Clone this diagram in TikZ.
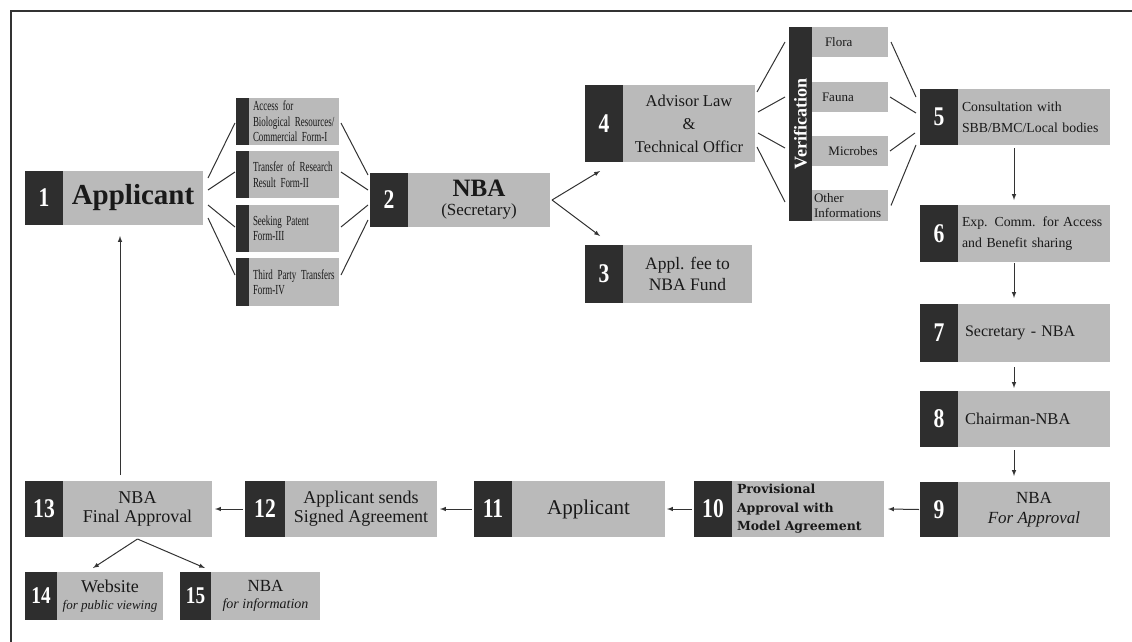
\documentclass[tikz,border=0pt]{standalone}
\usepackage{fontspec}
\setmainfont{Liberation Serif}
\newfontfamily\narrowfont[FakeStretch=0.65]{Liberation Serif}
\newfontfamily\numfont[FakeStretch=0.8]{Liberation Serif}
\newfontfamily\widefont{DejaVu Serif}
\usetikzlibrary{positioning}
\definecolor{darkbox}{HTML}{2E2E2E}
\definecolor{greybox}{HTML}{BABABA}
\definecolor{inkline}{HTML}{333333}
\tikzset{
  numsq/.style={fill=darkbox, text=white, font=\numfont\bfseries\fontsize{27}{27}\selectfont,
    minimum width=38pt, inner sep=0pt, outer sep=0pt, anchor=north west},
  body/.style={fill=greybox, text=black!90, inner sep=2pt, outer sep=0pt, align=center},
  leftbody/.style={body, align=left, inner xsep=4pt, text width=144pt},
  strip/.style={fill=darkbox, minimum width=13pt, inner sep=0pt, outer sep=0pt, anchor=north west},
  form/.style={body, align=left, inner xsep=4pt, text width=82pt,
    font=\narrowfont\fontsize{13.8}{15.5}\selectfont},
  item/.style={body, anchor=north west, minimum width=76pt, minimum height=30pt,
    font=\fontsize{13}{14}\selectfont},
  fan/.style={draw=inkline, line width=1pt},
  flow/.style={draw=inkline, line width=1pt, -latex},
}
\begin{document}
\begin{tikzpicture}[x=1pt,y=-1pt]
\useasboundingbox (0,0) rectangle (1132,642);
\draw[line width=1.3pt, inkline] (11,642) -- (11,11) -- (1132,11);
\hyphenpenalty=10000

% applicant and forms
\node[numsq, minimum height=54pt] (n1) at (25,171) {1};
\node[body, minimum width=140pt, minimum height=54pt, right=0pt of n1,
  font=\bfseries\fontsize{29}{30}\selectfont] (b1) {Applicant};

\node[strip, minimum height=47pt] (f1s) at (236,98) {};
\node[form, minimum height=47pt, right=0pt of f1s] (f1) {Access for\\Biological Resources/\\Commercial Form-I};
\node[strip, minimum height=47pt] (f2s) at (236,151) {};
\node[form, minimum height=47pt, right=0pt of f2s] (f2) {Transfer of Research\\Result Form-II};
\node[strip, minimum height=47pt] (f3s) at (236,205) {};
\node[form, minimum height=47pt, right=0pt of f3s] (f3) {Seeking Patent\\Form-III};
\node[strip, minimum height=48pt] (f4s) at (236,258) {};
\node[form, minimum height=48pt, right=0pt of f4s] (f4) {Third Party Transfers\\Form-IV};

% NBA secretary, fee, advisor
\node[numsq, minimum height=54pt] (n2) at (370,173) {2};
\node[body, minimum width=142pt, minimum height=54pt, right=0pt of n2,
  font=\fontsize{17}{19}\selectfont] (b2) {{\bfseries\fontsize{25}{25}\selectfont NBA}\\(Secretary)};

\node[numsq, minimum height=77pt] (n4) at (585,85) {4};
\node[body, minimum width=132pt, minimum height=77pt, right=0pt of n4,
  font=\fontsize{16.5}{23}\selectfont] (b4) {Advisor Law\\\&\\Technical Officr};

\node[numsq, minimum height=58pt] (n3) at (585,245) {3};
\node[body, minimum width=129pt, minimum height=58pt, right=0pt of n3,
  font=\fontsize{17.5}{21}\selectfont] (b3) {Appl. fee to\\NBA Fund};

% verification
\node[strip, minimum width=23pt, minimum height=194pt] (vs) at (789,27) {};
\node[rotate=90, text=white, font=\bfseries\fontsize{18}{18}\selectfont] (vtxt) at (vs.center) {Verification};
\node[item, align=left, text width=66pt, inner xsep=5pt] (flora) at (812,27) {\hspace*{8pt}Flora};
\node[item, align=left, text width=66pt, inner xsep=5pt] (fauna) at (812,82) {\hspace*{5pt}Fauna};
\node[item] (microbes) at (812,136) {\hspace*{6pt}Microbes};
\node[item, minimum height=31pt, align=left, text width=72pt, inner xsep=2pt,
  font=\fontsize{13}{15}\selectfont] (other) at (812,190) {Other\\Informations};

% right column
\node[numsq, minimum height=56pt] (n5) at (920,89) {5};
\node[leftbody, minimum height=56pt, right=0pt of n5, font=\fontsize{13.8}{21}\selectfont] (b5)
  {Consultation with\\SBB/BMC/Local bodies};
\node[numsq, minimum height=57pt] (n6) at (920,205) {6};
\node[leftbody, minimum height=57pt, right=0pt of n6, font=\fontsize{13.8}{21}\selectfont] (b6)
  {Exp. Comm. for Access\\and Benefit sharing};
\node[numsq, minimum height=58pt] (n7) at (920,304) {7};
\node[leftbody, minimum height=58pt, right=0pt of n7, font=\fontsize{16}{18}\selectfont] (b7)
  {\hspace*{3pt}Secretary - NBA};
\node[numsq, minimum height=56pt] (n8) at (920,391) {8};
\node[leftbody, minimum height=56pt, right=0pt of n8, font=\fontsize{16.5}{18}\selectfont] (b8)
  {\hspace*{3pt}Chairman-NBA};
\node[numsq, minimum height=55pt] (n9) at (920,482) {9};
\node[body, minimum width=152pt, minimum height=55pt, right=0pt of n9, font=\fontsize{17}{20}\selectfont] (b9)
  {NBA\\\textit{For Approval}};

% bottom row
\node[numsq, minimum height=56pt] (n10) at (694,481) {10};
\node[body, align=left, inner xsep=5pt, text width=142pt, minimum height=56pt, right=0pt of n10,
  font=\widefont\bfseries\fontsize{12.5}{18.5}\selectfont] (b10) {Provisional\\Approval with\\Model Agreement};
\node[numsq, minimum height=56pt] (n11) at (474,481) {11};
\node[body, minimum width=153pt, minimum height=56pt, right=0pt of n11,
  font=\fontsize{21}{24}\selectfont] (b11) {Applicant};
\node[numsq, minimum height=56pt, minimum width=40pt] (n12) at (245,481) {12};
\node[body, minimum width=152pt, minimum height=56pt, right=0pt of n12,
  font=\fontsize{18}{19}\selectfont] (b12) {Applicant sends\\Signed Agreement};
\node[numsq, minimum height=56pt] (n13) at (25,481) {13};
\node[body, minimum width=149pt, minimum height=56pt, right=0pt of n13,
  font=\fontsize{18}{19}\selectfont] (b13) {NBA\\Final Approval};
\node[numsq, minimum height=48pt, minimum width=32pt, font=\numfont\bfseries\fontsize{24}{24}\selectfont] (n14) at (25,572) {14};
\node[body, minimum width=106pt, minimum height=48pt, right=0pt of n14,
  font=\fontsize{18}{17}\selectfont] (b14) {Website\\{\itshape\fontsize{13}{13}\selectfont for public viewing}};
\node[numsq, minimum height=48pt, minimum width=31pt, font=\numfont\bfseries\fontsize{24}{24}\selectfont] (n15) at (180,572) {15};
\node[body, minimum width=109pt, minimum height=48pt, right=0pt of n15,
  font=\fontsize{17}{17}\selectfont] (b15) {NBA\\{\itshape\fontsize{14}{14}\selectfont for information}};

% fans
\draw[fan] ([xshift=5pt,yshift=20pt]b1.east) -- ([xshift=-1pt,yshift=-1.5pt]f1s.west);
\draw[fan] ([xshift=5pt,yshift=8pt]b1.east) -- ([xshift=-1pt,yshift=2.5pt]f2s.west);
\draw[fan] ([xshift=5pt,yshift=-7pt]b1.east) -- ([xshift=-1pt,yshift=1.5pt]f3s.west);
\draw[fan] ([xshift=5pt,yshift=-20pt]b1.east) -- ([xshift=-1pt,yshift=7pt]f4s.west);
\draw[fan] ([xshift=2pt,yshift=-1.5pt]f1.east) -- ([xshift=-2pt,yshift=25pt]n2.west);
\draw[fan] ([xshift=2pt,yshift=2.5pt]f2.east) -- ([xshift=-2pt,yshift=10pt]n2.west);
\draw[fan] ([xshift=2pt,yshift=1.5pt]f3.east) -- ([xshift=-2pt,yshift=-5pt]n2.west);
\draw[fan] ([xshift=2pt,yshift=7pt]f4.east) -- ([xshift=-2pt,yshift=-20pt]n2.west);

\draw[fan] ([xshift=2pt,yshift=31.5pt]b4.east) -- ([xshift=-4pt,yshift=82pt]vs.west);
\draw[fan] ([xshift=3pt,yshift=11.5pt]b4.east) -- ([xshift=-4pt,yshift=27pt]vs.west);
\draw[fan] ([xshift=3pt,yshift=-9.5pt]b4.east) -- ([xshift=-4pt,yshift=-24pt]vs.west);
\draw[fan] ([xshift=2pt,yshift=-23.5pt]b4.east) -- ([xshift=-4pt,yshift=-78pt]vs.west);
\draw[fan] ([xshift=3pt]flora.east) -- ([xshift=-4pt,yshift=20pt]n5.west);
\draw[fan] ([xshift=2pt]fauna.east) -- ([xshift=-4pt,yshift=4pt]n5.west);
\draw[fan] ([xshift=2pt]microbes.east) -- ([xshift=-5pt,yshift=-16pt]n5.west);
\draw[fan] ([xshift=3pt]other.east) -- ([xshift=-4pt,yshift=-28pt]n5.west);

% flow
\draw[flow] ([xshift=2pt]b2.east) -- ([xshift=-4pt,yshift=-9pt]n4.south);
\draw[flow] ([xshift=2pt]b2.east) -- ([xshift=-4pt,yshift=9pt]n3.north);
\draw[flow] ([xshift=-20pt,yshift=-3pt]b5.south) -- ([xshift=-20pt,yshift=5pt]b6.north);
\draw[flow] ([xshift=-20pt,yshift=-1pt]b6.south) -- ([xshift=-20pt,yshift=6pt]b7.north);
\draw[flow] ([xshift=-20pt,yshift=-5pt]b7.south) -- ([xshift=-20pt,yshift=3pt]b8.north);
\draw[flow] ([xshift=-20pt,yshift=-3pt]b8.south) -- ([xshift=-20pt,yshift=6pt]b9.north);
\draw[flow] ([xshift=-1pt]n9.west) -- ([xshift=4pt]b10.east);
\draw[flow] ([xshift=-2pt]n10.west) -- ([xshift=2pt]b11.east);
\draw[flow] ([xshift=-2pt]n11.west) -- ([xshift=3pt]b12.east);
\draw[flow] ([xshift=-2pt]n12.west) -- ([xshift=3pt]b13.east);
\draw[flow] ([xshift=-17.5pt,yshift=6pt]b13.north) -- ([xshift=-13pt,yshift=-11pt]b1.south);
\draw[flow] ([yshift=-2pt]b13.south) -- ([xshift=-17pt,yshift=4pt]b14.north);
\draw[flow] ([yshift=-2pt]b13.south) -- ([xshift=9.5pt,yshift=4pt]n15.north);
\end{tikzpicture}
\end{document}
